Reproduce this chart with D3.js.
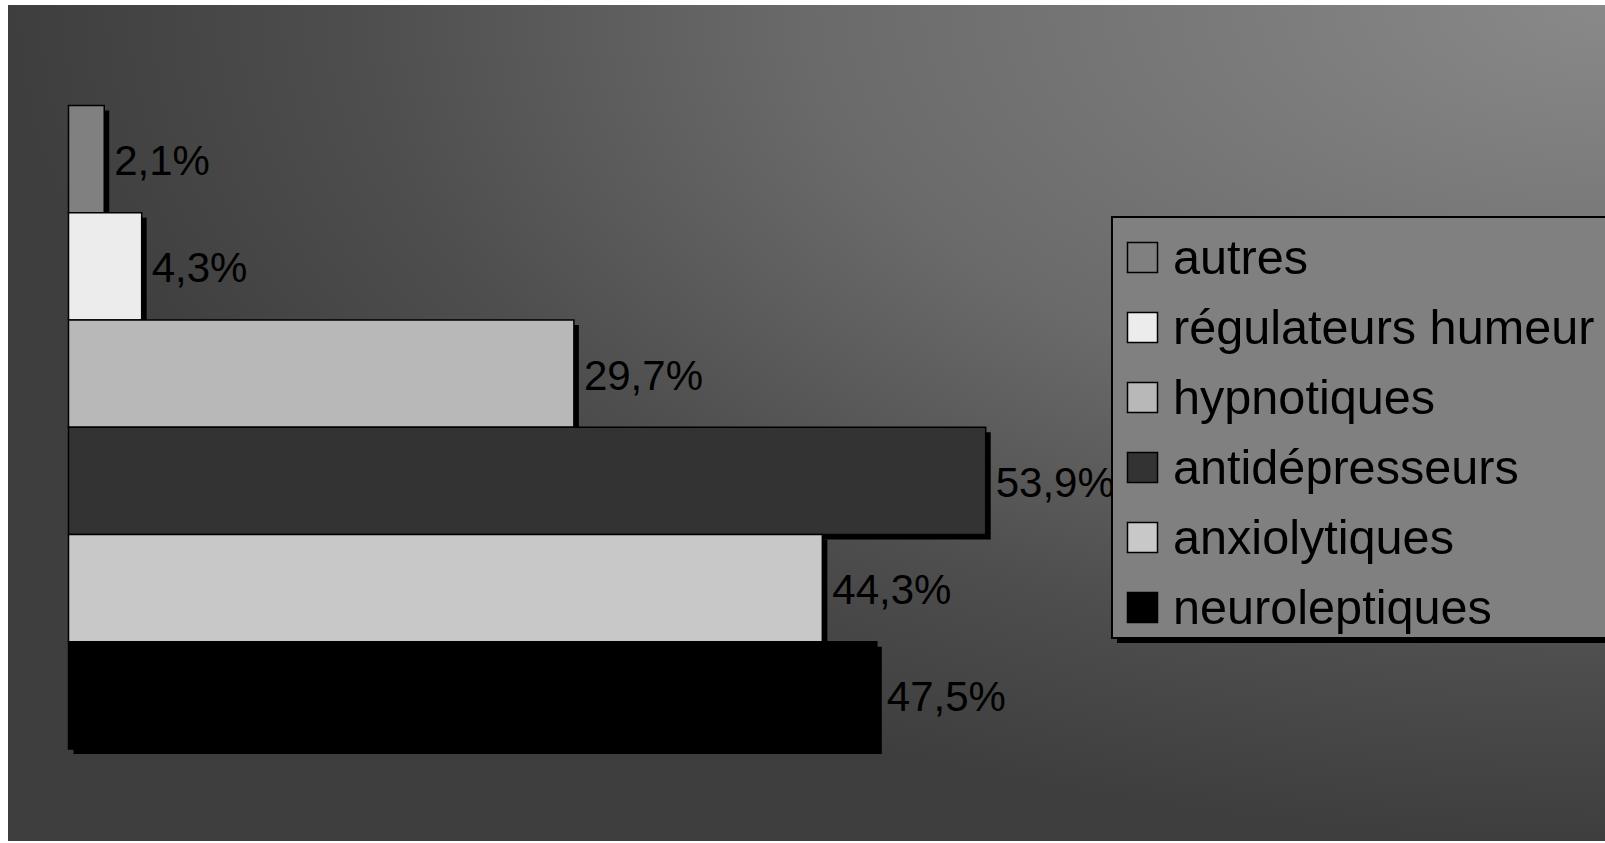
<!DOCTYPE html>
<html>
<head>
<meta charset="utf-8">
<script src="https://cdn.jsdelivr.net/npm/d3@7"></script>
<style>
	html, body { margin: 0; padding: 0; background: #ffffff; }
	svg { display: block; }
	text { font-family: "Liberation Sans", Arial, sans-serif; }
</style>
</head>
<body>
<svg id="chart" width="1605" height="843"></svg>
<script>
// categories, from top to bottom of the chart
let categories = ["autres", "régulateurs humeur", "hypnotiques", "antidépresseurs", "anxiolytiques", "neuroleptiques"];
let values = [2.1, 4.3, 29.7, 53.9, 44.3, 47.5];
let labels = ["2,1%", "4,3%", "29,7%", "53,9%", "44,3%", "47,5%"];
let fills = ["#808080", "#ececec", "#b8b8b8", "#333333", "#c8c8c8", "#000000"];

let size = { w: 1605, h: 843 };
let svg = d3.select("#chart");

// background, lighter in the top right corner
let defs = svg.append("defs");
let grad = defs
	.append("radialGradient")
	.attr("id", "bg")
	.attr("cx", 1)
	.attr("cy", 0)
	.attr("r", 1)
	.attr("fx", 1)
	.attr("fy", 0);
grad.append("stop").attr("offset", "0%").attr("stop-color", "#898989");
grad.append("stop").attr("offset", "50%").attr("stop-color", "#6a6a6a");
grad.append("stop").attr("offset", "78%").attr("stop-color", "#4e4e4e");
grad.append("stop").attr("offset", "100%").attr("stop-color", "#3e3e3e");

svg.append("rect")
	.attr("x", 8)
	.attr("y", 5)
	.attr("width", size.w - 8)
	.attr("height", 836)
	.attr("fill", "url(#bg)");

let xScale = d3.scaleLinear().domain([0, 60]).range([68.5, 68.5 + 1021]);
let yScale = d3.scaleBand().domain(categories).range([105.5, 749]).paddingInner(0);

let rows = categories.map((c, i) => ({ cat: c, value: values[i], label: labels[i], fill: fills[i] }));

let bars = svg
	.append("g")
	.classed("bars", true)
	.selectAll("g")
	.data(rows)
	.join("g");

// drop shadow first, then the bar
bars.append("rect")
	.attr("x", xScale(0) + 5)
	.attr("y", (d) => yScale(d.cat) + 5)
	.attr("width", (d) => xScale(d.value) - xScale(0))
	.attr("height", yScale.bandwidth())
	.attr("fill", "#000");

bars.append("rect")
	.attr("x", xScale(0))
	.attr("y", (d) => yScale(d.cat))
	.attr("width", (d) => xScale(d.value) - xScale(0))
	.attr("height", yScale.bandwidth())
	.attr("fill", (d) => d.fill)
	.attr("stroke", "#000")
	.attr("stroke-width", 1.5);

svg.append("g")
	.classed("labels", true)
	.selectAll("text")
	.data(rows)
	.join("text")
	.attr("x", (d) => xScale(d.value) + 10)
	.attr("y", (d) => yScale(d.cat) + yScale.bandwidth() / 2 + 16)
	.attr("font-size", 42)
	.attr("fill", "#000")
	.text((d) => d.label);

// legend
let legend = svg.append("g").classed("legend", true).attr("transform", "translate(1112, 217)");
legend.append("rect")
	.attr("x", 5)
	.attr("y", 5)
	.attr("width", 520)
	.attr("height", 421)
	.attr("fill", "#000");
legend.append("rect")
	.attr("x", 0)
	.attr("y", 0)
	.attr("width", 520)
	.attr("height", 421)
	.attr("fill", "#808080")
	.attr("stroke", "#000")
	.attr("stroke-width", 2);

let items = legend
	.selectAll("g.item")
	.data(rows)
	.join("g")
	.classed("item", true)
	.attr("transform", (d, i) => `translate(0, ${25 + i * 70})`);

items.append("rect")
	.attr("x", 15.5)
	.attr("y", 0.5)
	.attr("width", 30)
	.attr("height", 30)
	.attr("fill", (d) => d.fill)
	.attr("stroke", "#000")
	.attr("stroke-width", 1.5);

items.append("text")
	.attr("x", 61)
	.attr("y", 32)
	.attr("font-size", 48.6)
	.attr("fill", "#000")
	.text((d) => d.cat);
</script>
</body>
</html>
